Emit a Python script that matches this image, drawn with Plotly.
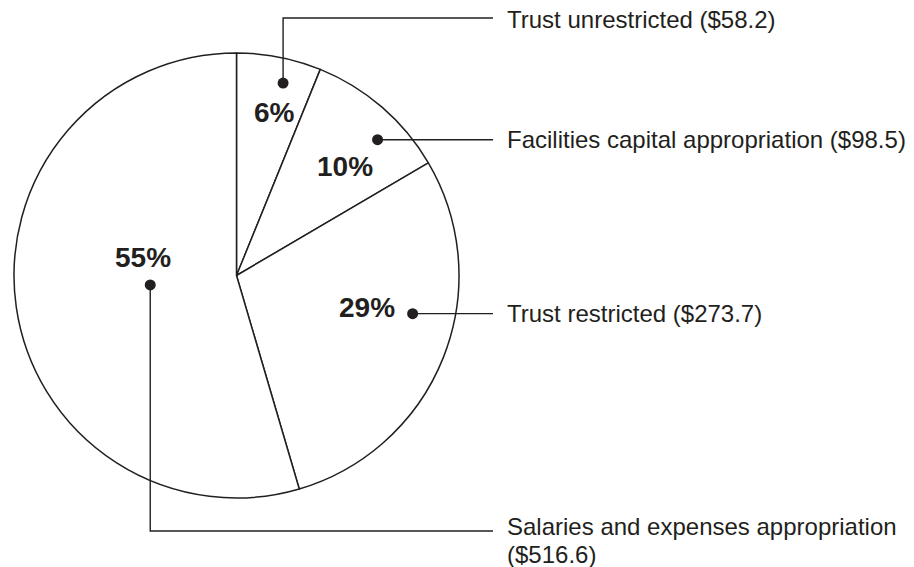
import math
import plotly.graph_objects as go

# data (values in $ millions)
categories = ["Trust unrestricted", "Facilities capital appropriation",
              "Trust restricted", "Salaries and expenses appropriation"]
amounts = [58.2, 98.5, 273.7, 516.6]

# page + pie geometry (pixels)
W, H = 914, 567
CX, CY, R = 236.5, 275.5, 222.5
INK = "#231f20"
FONT = "Liberation Sans, Arial, Helvetica, sans-serif"

# callout styling per slice: (share of slice angle, share of radius) for the dot
dot_pos = [(0.615, 0.89), (0.64, 0.88), (0.41, 0.81), (0.51, 0.39)]
pct_offset = [(-9, 29), (-33, 27), (-46, -6), (-7, -27)]
row_y = [18, None, None, 531]      # None -> leader runs straight across
wrap = [False, False, False, True]
label_dy = [1, 0, 0, -4.5]
LEAD_END, TEXT_X, LINE_GAP, DOT_R = 493, 505, 28, 5.5

total = sum(amounts)
pcts = [round(v / total * 100) for v in amounts]

fig = go.Figure()
fig.add_trace(go.Pie(
    values=amounts, labels=categories, sort=False, direction="clockwise", rotation=0,
    marker=dict(colors=["white"] * len(amounts), line=dict(color=INK, width=1.5)),
    textinfo="none", hoverinfo="skip", showlegend=False,
    domain=dict(x=[(CX - R) / W, (CX + R) / W], y=[1 - (CY + R) / H, 1 - (CY - R) / H]),
))

shapes, annos = [], []
start = 0.0
for i, v in enumerate(amounts):
    span = v / total * 360
    ang = math.radians(start + dot_pos[i][0] * span)
    start += span
    dx = CX + dot_pos[i][1] * R * math.sin(ang)
    dy = CY - dot_pos[i][1] * R * math.cos(ang)

    ry = dy if row_y[i] is None else row_y[i]
    shapes.append(dict(type="path", xref="x", yref="y",
                       path=f"M {dx},{dy} L {dx},{ry} L {LEAD_END},{ry}",
                       line=dict(color=INK, width=1.4)))
    # the pie layer sits over cartesian traces, so the dot is a shape
    shapes.append(dict(type="circle", xref="x", yref="y",
                       x0=dx - DOT_R, x1=dx + DOT_R, y0=dy - DOT_R, y1=dy + DOT_R,
                       fillcolor=INK, line=dict(width=0)))

    annos.append(dict(x=dx + pct_offset[i][0], y=dy + pct_offset[i][1], xref="x", yref="y",
                      text=f"<b>{pcts[i]}%</b>", showarrow=False,
                      font=dict(family=FONT, size=28, color=INK)))

    lines = [categories[i], f"(${v})"] if wrap[i] else [f"{categories[i]} (${v})"]
    for k, t in enumerate(lines):
        annos.append(dict(x=TEXT_X, y=ry + label_dy[i] + k * LINE_GAP, xref="x", yref="y",
                          text=t, showarrow=False, xanchor="left", yanchor="middle",
                          font=dict(family=FONT, size=24, color=INK)))

fig.update_layout(
    width=W, height=H, margin=dict(l=0, r=0, t=0, b=0),
    paper_bgcolor="white", plot_bgcolor="rgba(0,0,0,0)",
    xaxis=dict(range=[0, W], visible=False, fixedrange=True),
    yaxis=dict(range=[H, 0], visible=False, fixedrange=True),
    shapes=shapes, annotations=annos,
)
# drop the browser's default 8px body margin so the figure fills the window
fig.write_html("out.html", config={"displayModeBar": False},
               post_script="document.body.style.margin='0';")
